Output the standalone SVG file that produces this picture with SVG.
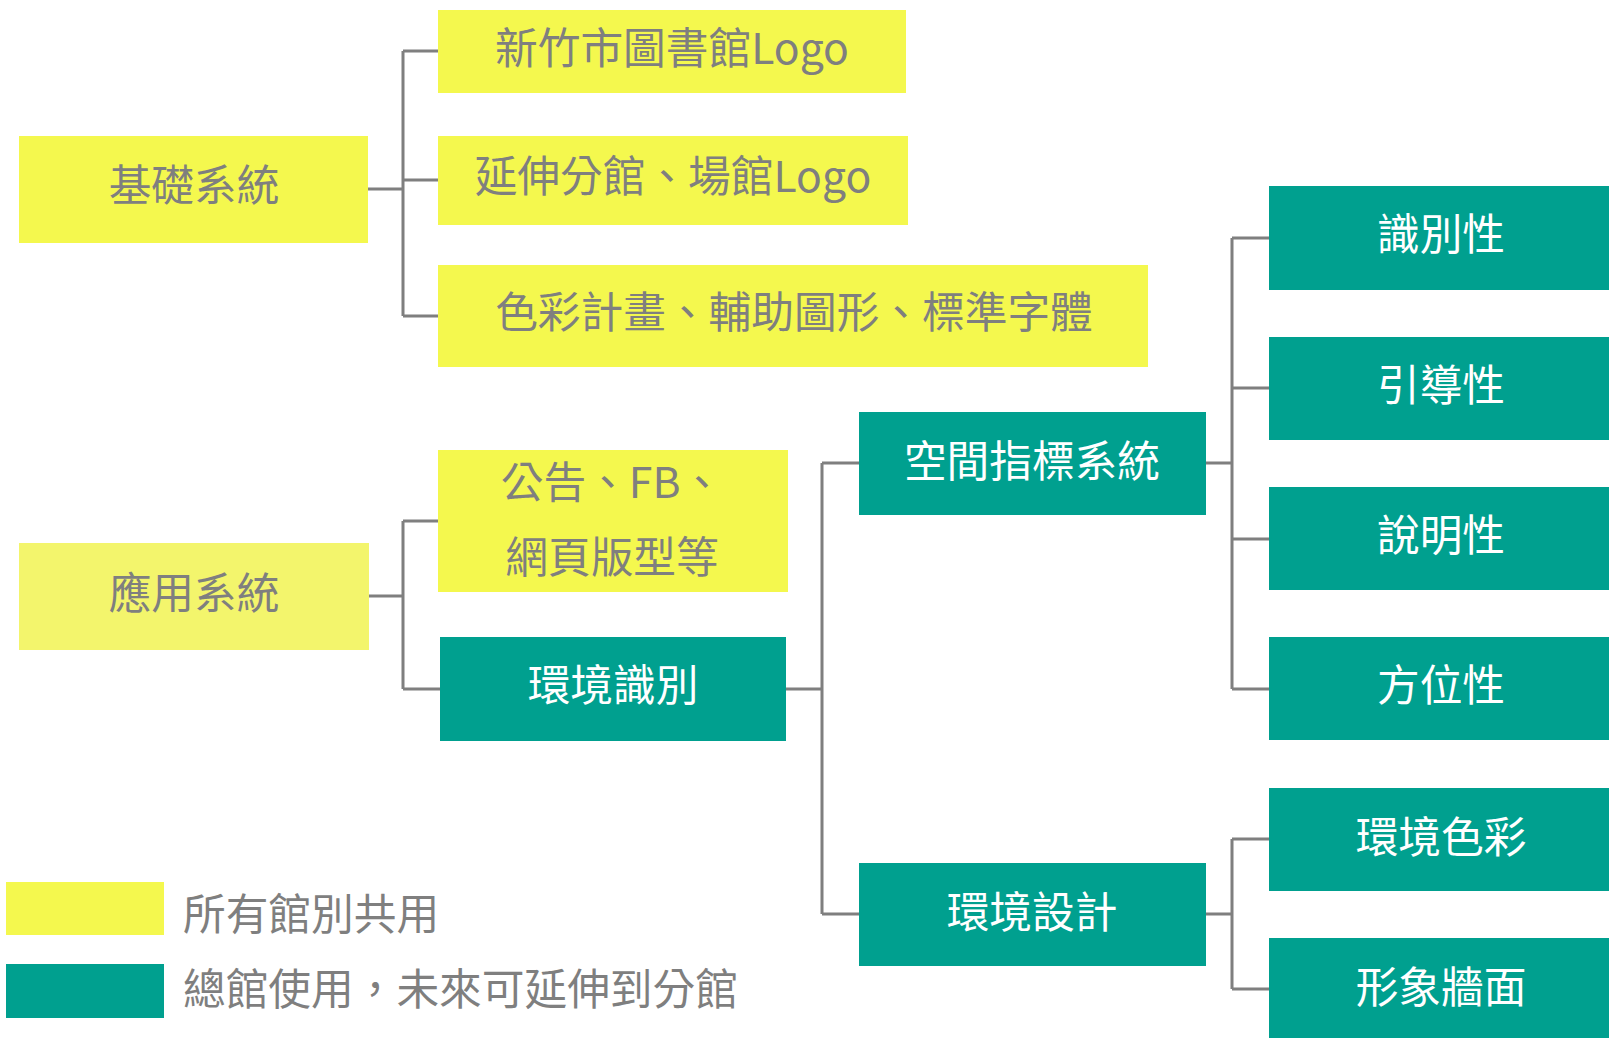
<svg xmlns="http://www.w3.org/2000/svg" width="1609" height="1038" viewBox="0 0 1609 1038">
<style>
text{font-family:"Noto Sans CJK TC","Noto Sans",sans-serif;font-size:42.7px;text-anchor:middle}
.y{fill:#F4F84E}
.y2{fill:#F3F56C}
.t{fill:#00A08F}
.gt{fill:#7F7F7F}
.wt{fill:#FFFFFF}
.c{fill:none;stroke:#7F7F7F;stroke-width:3}
</style>
<rect width="1609" height="1038" fill="#FFFFFF"/>
<g id="connectors">
<path class="c" d="M368 189H403M403 51V316M403 51H438M403 180H438M403 316H438"/>
<path class="c" d="M369 596H403M403 521V689M403 521H438M403 689H440"/>
<path class="c" d="M786 689H822M822 463V914M822 463H859M822 914H859"/>
<path class="c" d="M1206 463H1232M1232 238V689M1232 238H1269M1232 388H1269M1232 539H1269M1232 689H1269"/>
<path class="c" d="M1206 914H1232M1232 839V989M1232 839H1269M1232 989H1269"/>
</g>
<g id="n-jichu"><rect class="y" x="19" y="136" width="349" height="107"/><text class="gt" x="194" y="201">基礎系統</text></g>
<g id="n-logo"><rect class="y" x="438" y="10" width="468" height="83"/><text class="gt" x="672" y="64">新竹市圖書館Logo</text></g>
<g id="n-branch"><rect class="y" x="438" y="136" width="470" height="89"/><text class="gt" x="673" y="192">延伸分館、場館Logo</text></g>
<g id="n-color"><rect class="y" x="438" y="265" width="710" height="102"/><text class="gt" x="794" y="328">色彩計畫、輔助圖形、標準字體</text></g>
<g id="n-yingyong"><rect class="y2" x="19" y="543" width="350" height="107"/><text class="gt" x="194" y="609">應用系統</text></g>
<g id="n-notice"><rect class="y" x="438" y="450" width="350" height="142"/><text class="gt" x="612" y="498">公告、FB、</text><text class="gt" x="612" y="573">網頁版型等</text></g>
<g id="n-env-id"><rect class="t" x="440" y="637" width="346" height="104"/><text class="wt" x="613" y="701">環境識別</text></g>
<g id="n-space"><rect class="t" x="859" y="412" width="347" height="103"/><text class="wt" x="1032" y="477">空間指標系統</text></g>
<g id="n-envdesign"><rect class="t" x="859" y="863" width="347" height="103"/><text class="wt" x="1032" y="928">環境設計</text></g>
<g id="n-s1"><rect class="t" x="1269" y="186" width="340" height="104"/><text class="wt" x="1441" y="250">識別性</text></g>
<g id="n-s2"><rect class="t" x="1269" y="337" width="340" height="103"/><text class="wt" x="1441" y="401">引導性</text></g>
<g id="n-s3"><rect class="t" x="1269" y="487" width="340" height="103"/><text class="wt" x="1441" y="551">說明性</text></g>
<g id="n-s4"><rect class="t" x="1269" y="637" width="340" height="103"/><text class="wt" x="1441" y="701">方位性</text></g>
<g id="n-e1"><rect class="t" x="1269" y="788" width="340" height="103"/><text class="wt" x="1441" y="853">環境色彩</text></g>
<g id="n-e2"><rect class="t" x="1269" y="938" width="340" height="100"/><text class="wt" x="1441" y="1003">形象牆面</text></g>
<g id="legend">
<rect class="y" x="6" y="882" width="158" height="53"/>
<text class="gt" x="183" y="930" style="text-anchor:start">所有館別共用</text>
<rect class="t" x="6" y="964" width="158" height="54"/>
<text class="gt" x="183" y="1005" style="text-anchor:start">總館使用，未來可延伸到分館</text>
</g>
</svg>
